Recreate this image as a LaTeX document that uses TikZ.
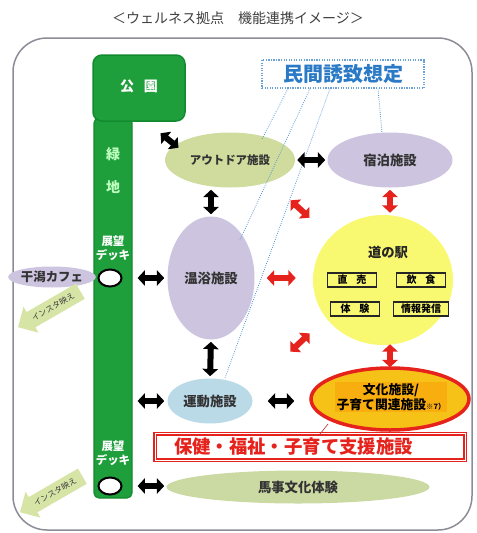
\documentclass[tikz,border=0pt]{standalone}
\usepackage{fontspec}
\setmainfont{Noto Sans CJK JP}
\usetikzlibrary{shapes.geometric,shapes.arrows,arrows.meta}

\newlength\pxu
\setlength\pxu{0.75pt}

\definecolor{parkgreen}{HTML}{1E9F3C}
\definecolor{parkedge}{HTML}{138A2E}
\definecolor{olive}{HTML}{CFDC9E}
\definecolor{lavender}{HTML}{CDC4DF}
\definecolor{skyblue}{HTML}{BBDAE8}
\definecolor{michiyellow}{HTML}{F9F871}
\definecolor{cultureorange}{HTML}{F6C217}
\definecolor{alertred}{HTML}{E5221B}
\definecolor{minkanblue}{HTML}{2A7AC6}
\definecolor{bajigreen}{HTML}{CBD9A3}
\definecolor{instagreen}{HTML}{D6E4A6}
\definecolor{framegray}{HTML}{8C8C98}

\newcommand\fs[1]{\fontsize{#1}{1.2\dimexpr#1\relax}\selectfont}

\tikzset{
  facility/.style={ellipse, inner sep=0pt, font=\fs{10pt}\bfseries, text=black!80},
  shopbox/.style={draw=black!85, line width=1.3\pxu, fill=michiyellow, minimum width=49\pxu,
    minimum height=14\pxu, inner sep=0pt, font=\fs{7.5pt}\bfseries},
  bartext/.style={font=\fs{10.5pt}\bfseries, text=green!25!white},
  decktext/.style={font=\fs{8.6pt}\bfseries, text=white, align=center, inner sep=0pt},
  hole/.style={ellipse, draw=black, line width=2\pxu, fill=white, minimum width=23\pxu,
    minimum height=17\pxu, inner sep=0pt},
  blk/.style={line width=6\pxu, {Triangle[length=5.5pt,width=11.5pt]}-{Triangle[length=5.5pt,width=11.5pt]},
    shorten <=2\pxu, shorten >=2\pxu},
  redarr/.style={blk, alertred},
  dot/.style={densely dotted, minkanblue!80, line width=0.8\pxu},
  insta/.style={single arrow, fill=instagreen, rotate=30, shape border rotate=180,
    minimum height=72\pxu, minimum width=30\pxu, single arrow head extend=6\pxu,
    inner xsep=1pt, inner ysep=3.4pt, font=\fs{6pt}, text=black!75}
}

\begin{document}
\begin{tikzpicture}[x=\pxu, y=-\pxu]
  \useasboundingbox (0,0) rectangle (477,533);
  \node[font=\fs{10.5pt}, text=black!75] (title) at (238,18) {＜ウェルネス拠点　機能連携イメージ＞};
  \draw[framegray, line width=1.5\pxu, rounded corners=34\pxu] (13,38) rectangle (472,530);

  % park and green strip
  \node[draw=parkedge, fill=parkgreen, line width=1.2\pxu, rounded corners=5\pxu,
    minimum width=38\pxu, minimum height=380\pxu, inner sep=0pt] (bar) at (113,308) {};
  \node[draw=parkedge, fill=parkgreen, line width=1.5\pxu, rounded corners=9\pxu,
    minimum width=92\pxu, minimum height=66\pxu, text=white, font=\fs{10.5pt}\bfseries] (park) at (139,88)
    {\raisebox{4\pxu}{公\hspace{0.7em}園}};
  \node[bartext] (ryoku) at (113,154) {緑};
  \node[bartext] (chi) at (113,187) {地};
  \node[decktext] (deckA) at (113,248) {展望\\デッキ};
  \node[hole] (holeA) at (110,278) {};
  \node[decktext] (deckB) at (113,453) {展望\\デッキ};
  \node[hole] (holeB) at (110,486) {};

  \node[facility, fill=lavender, minimum width=75\pxu, minimum height=21\pxu, font=\fs{9.3pt}\bfseries] (cafe) at (52,277) {干潟カフェ};
  \node[insta] (instaA) at (53,307) {インスタ映え};
  \node[insta] (instaB) at (55,492) {インスタ映え};

  % facilities
  \node[facility, fill=olive, minimum width=130\pxu, minimum height=55\pxu, font=\fs{8.6pt}\bfseries] (outdoor) at (230,160) {アウトドア施設};
  \node[facility, fill=lavender, minimum width=125\pxu, minimum height=55\pxu] (hotel) at (390,160) {宿泊施設};
  \node[facility, fill=lavender, minimum width=87\pxu, minimum height=123\pxu] (onsen) at (211,278) {温浴施設};
  \node[facility, fill=skyblue, minimum width=85\pxu, minimum height=45\pxu] (sports) at (210,401) {運動施設};
  \node[ellipse, fill=michiyellow, minimum width=140\pxu, minimum height=130\pxu] (michi) at (383,280) {};
  \node[font=\fs{10pt}\bfseries, text=black!85] (michiname) at (388,252) {道の駅};
  \node[shopbox] (sale) at (352,280) {直\hspace{0.9em}売};
  \node[shopbox] (food) at (421,280) {飲\hspace{0.9em}食};
  \node[shopbox] (exper) at (355,309) {体\hspace{0.9em}験};
  \node[shopbox, minimum width=55\pxu] (info) at (421,309) {情報発信};
  \node[ellipse, draw=alertred, line width=3.5\pxu, fill=cultureorange, minimum width=158\pxu,
    minimum height=62\pxu, inner sep=0pt] (culture) at (390,399) {};
  \node[fill=cultureorange!70!orange, align=center, inner sep=1pt, font=\fs{9.6pt}\bfseries] (culturename) at (391,397)
    {文化施設/\\子育て関連施設{\fs{5.5pt}※7）}};
  \node[draw=alertred, line width=1.6\pxu, double=white, double distance=1\pxu, minimum height=25\pxu,
    text width=272\pxu, inner xsep=19\pxu, align=left, text=alertred, font=\fs{13.8pt}\bfseries] (health) at (310,447)
    {保健・福祉・子育て支援施設};
  \node[facility, fill=bajigreen, minimum width=263\pxu, minimum height=33\pxu] (baji) at (298,487) {馬事文化体験};

  \node[draw=minkanblue!70, densely dotted, line width=1.2\pxu, minimum width=162\pxu, minimum height=28\pxu,
    text=minkanblue, font=\fs{15pt}\bfseries] (minkan) at (343,74) {民間誘致想定};

  % dotted links to private facilities
  \draw[dot] ([xshift=-55\pxu]minkan.south) -- ([shift={(32,-21)}]outdoor.center);
  \draw[dot] ([xshift=-33\pxu]minkan.south) -- ([shift={(29,-38)}]onsen.center);
  \draw[dot] ([xshift=-13\pxu]minkan.south) -- ([shift={(15,-23)}]sports.center);
  \draw[dot] ([xshift=35\pxu]minkan.south) -- ([shift={(-8,-27)}]hotel.center);
  \draw[red!50!gray, line width=0.7\pxu] ([shift={(-62,25)}]culture.center) -- ([shift={(10,-13)}]health.center);

  % black links
  \coordinate (parkA) at (159,132);
  \coordinate (parkB) at (180,149);
  \draw[blk] (parkA) -- (parkB);
  \draw[blk] (outdoor.east) -- (hotel.west);
  \draw[blk] (onsen.north |- outdoor.south) -- (onsen.north);
  \draw[blk] (onsen.south) -- (sports.north);
  \draw[blk, shorten <=5\pxu, shorten >=3\pxu] (holeA -| bar.east) -- (onsen.west);
  \draw[blk, shorten <=5\pxu, shorten >=3\pxu] (sports.west -| bar.east) -- (sports.west);
  \draw[blk, shorten <=5\pxu, shorten >=2\pxu] (holeB -| bar.east) -- (holeB -| baji.west);
  \draw[blk, shorten <=15\pxu, shorten >=15\pxu] (sports.east) -- (sports.east -| culture.west);

  % red links to the road station
  \coordinate (redA) at (289,199);
  \coordinate (redB) at (311,219);
  \coordinate (redC) at (289,353);
  \coordinate (redD) at (311,332);
  \draw[redarr] (redA) -- (redB);
  \draw[redarr] (redC) -- (redD);
  \draw[redarr] (hotel.south) -- (hotel.south |- michi.north);
  \draw[redarr, shorten <=12\pxu, shorten >=17\pxu] (onsen.east) -- (onsen.east -| michi.west);
  \draw[redarr, shorten <=-1\pxu, shorten >=-1\pxu] (culture.north |- michi.south) -- (culture.north);
\end{tikzpicture}
\end{document}
